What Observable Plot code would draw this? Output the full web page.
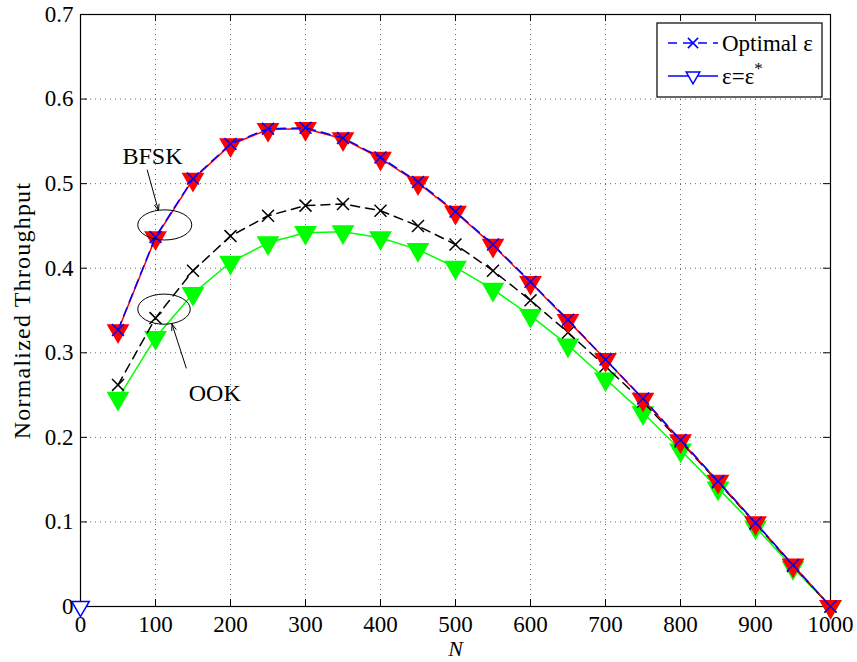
<!DOCTYPE html>
<html><head><meta charset="utf-8">
<script src="https://cdn.jsdelivr.net/npm/d3@7"></script>
<script src="https://cdn.jsdelivr.net/npm/@observablehq/plot@0.6"></script>
<style>
body{margin:0;background:#fff;}
#chart{position:relative;width:857px;height:662px;}
</style>
</head><body><div id="chart"></div>
<script>
// ---- data ----
const N = [50,100,150,200,250,300,350,400,450,500,550,600,650,700,750,800,850,900,950,1000];
const bfskOptimal = [0.327,0.437,0.506,0.547,0.565,0.566,0.554,0.531,0.502,0.467,0.428,0.384,0.339,0.292,0.246,0.197,0.148,0.099,0.049,0];
const bfskStar    = [0.326,0.436,0.505,0.546,0.564,0.565,0.553,0.530,0.501,0.466,0.427,0.383,0.338,0.292,0.245,0.196,0.148,0.099,0.049,0];
const ookOptimal  = [0.262,0.341,0.397,0.438,0.462,0.474,0.476,0.468,0.450,0.428,0.397,0.362,0.324,0.284,0.242,0.195,0.147,0.098,0.048,0];
const ookStar     = [0.246,0.318,0.370,0.407,0.430,0.442,0.443,0.436,0.422,0.401,0.375,0.344,0.309,0.269,0.229,0.185,0.140,0.094,0.046,0];
const xTicks = [0,100,200,300,400,500,600,700,800,900,1000];
const yTicks = [0,0.1,0.2,0.3,0.4,0.5,0.6,0.7];
const yTickLabels = ["0","0.1","0.2","0.3","0.4","0.5","0.6","0.7"];
const dummyPoint = [{N:0, v:0}];
const legendLabels = ["Optimal ε", "ε=ε"];
const annotText = [{label:"BFSK", x:96, y:0.532},{label:"OOK", x:179, y:0.2515}];
const annotEllipse = [{cx:113, cy:0.4506, rx:36, ry:0.0178},{cx:112, cy:0.351, rx:35, ry:0.0178}];
const annotArrow = [{x1:89, y1:0.516, x2:104, y2:0.468},{x1:141, y1:0.282, x2:122, y2:0.334}];

const rows = (ys) => N.map((n,i)=>({N:n, v:ys[i]}));
const W = 857, H = 662, mL = 80, mR = 27, mT = 14, mB = 56;
const innerW = W - mL - mR, innerH = H - mT - mB;
const font = "'Liberation Serif', 'Times New Roman', serif";

const chart = Plot.plot({
  width: W, height: H,
  marginLeft: mL, marginRight: mR, marginTop: mT, marginBottom: mB,
  style: {fontFamily: font, fontSize: "23px", background: "white", color: "black", overflow: "visible"},
  x: {domain: [0, 1000]},
  y: {domain: [0, 0.7]},
  marks: [
    Plot.gridX(xTicks, {stroke: "black", strokeOpacity: 0.6, strokeDasharray: "1,4"}),
    Plot.gridY(yTicks, {stroke: "black", strokeOpacity: 0.6, strokeDasharray: "1,4"}),
    Plot.tickX(xTicks, {x: d => d, insetTop: innerH - 7, stroke: "black"}),
    Plot.tickX(xTicks, {x: d => d, insetBottom: innerH - 7, stroke: "black"}),
    Plot.tickY(yTicks, {y: d => d, insetRight: innerW - 7, stroke: "black"}),
    Plot.tickY(yTicks, {y: d => d, insetLeft: innerW - 7, stroke: "black"}),
    Plot.axisX(xTicks, {tickSize: 0, tickPadding: 9, tickFormat: d => String(d), label: null, fontSize: 23}),
    Plot.axisY(yTicks, {tickSize: 0, tickPadding: 7, tickFormat: (d,i) => yTickLabels[i], label: null, fontSize: 23}),
    Plot.frame({stroke: "black", strokeWidth: 1.2}),
    // OOK, eps = eps*
    Plot.line(rows(ookStar), {x: "N", y: "v", stroke: "#00ff00", strokeWidth: 1.5}),
    Plot.dot(rows(ookStar), {x: "N", y: "v", symbol: "triangle", r: 7.5, fill: "#00ff00", stroke: "#00ff00", rotate: 180}),
    // OOK optimal
    Plot.line(rows(ookOptimal), {x: "N", y: "v", stroke: "black", strokeWidth: 1.5, strokeDasharray: "9,6"}),
    Plot.dot(rows(ookOptimal), {x: "N", y: "v", symbol: "times", r: 5.5, stroke: "black", strokeWidth: 1.5}),
    // BFSK eps = eps*
    Plot.line(rows(bfskStar), {x: "N", y: "v", stroke: "red", strokeWidth: 1.5}),
    Plot.dot(rows(bfskStar), {x: "N", y: "v", symbol: "triangle", r: 7.5, fill: "red", stroke: "red", rotate: 180}),
    // BFSK optimal
    Plot.line(rows(bfskOptimal), {x: "N", y: "v", stroke: "blue", strokeWidth: 1.5, strokeDasharray: "9,6"}),
    Plot.dot(rows(bfskOptimal), {x: "N", y: "v", symbol: "times", r: 5.5, stroke: "blue", strokeWidth: 1.5}),
    // dummy legend point at origin
    Plot.dot(dummyPoint, {x: "N", y: "v", symbol: "triangle", r: 6.5, fill: "white", stroke: "blue", strokeWidth: 1.5, rotate: 180}),
    // annotations
    Plot.arrow(annotArrow, {x1: "x1", y1: "y1", x2: "x2", y2: "y2", stroke: "black", strokeWidth: 1, headLength: 10, headAngle: 40}),
    Plot.text(annotText, {x: "x", y: "y", text: "label", fontSize: 24, fill: "black"}),
    // axis titles
    Plot.text(["N"], {frameAnchor: "bottom", textAnchor: "middle", lineAnchor: "middle", dy: 42, text: d => d, fontSize: 22, fontStyle: "italic", fill: "black"}),
    Plot.text(["Normalized Throughput"], {frameAnchor: "left", textAnchor: "middle", dx: -58, rotate: -90, text: d => d, fontSize: 24, fill: "black"})
  ]
});

document.getElementById("chart").appendChild(chart);
const svg = d3.select(chart);
const sx = chart.scale("x"), sy = chart.scale("y");

svg.selectAll("text").filter(function(){ return this.textContent === "Normalized Throughput"; })
  .style("letter-spacing", "1.2px");

// ellipses
svg.append("g").selectAll("ellipse").data(annotEllipse).join("ellipse")
  .attr("cx", d => sx.apply(d.cx))
  .attr("cy", d => sy.apply(d.cy))
  .attr("rx", d => sx.apply(d.cx + d.rx) - sx.apply(d.cx))
  .attr("ry", d => sy.apply(d.cy - d.ry) - sy.apply(d.cy))
  .attr("fill", "none").attr("stroke", "black").attr("stroke-width", 1);

// legend
const lg = svg.append("g").attr("font-family", font).attr("font-size", 23).attr("text-anchor", "start");
lg.append("rect").attr("x", 657).attr("y", 23).attr("width", 165).attr("height", 74)
  .attr("fill", "white").attr("stroke", "black").attr("stroke-width", 1.2);
const rowY = [43, 76];
lg.append("line").attr("x1", 668).attr("x2", 718).attr("y1", rowY[0]).attr("y2", rowY[0])
  .attr("stroke", "blue").attr("stroke-width", 1.5).attr("stroke-dasharray", "9,6");
lg.append("path").attr("d", d3.symbol(d3.symbolTimes, 70)()).attr("transform", `translate(693,${rowY[0]})`)
  .attr("fill", "none").attr("stroke", "blue").attr("stroke-width", 1.5);
lg.append("line").attr("x1", 668).attr("x2", 718).attr("y1", rowY[1]).attr("y2", rowY[1])
  .attr("stroke", "blue").attr("stroke-width", 1.5);
lg.append("path").attr("d", d3.symbol(d3.symbolTriangle, 80)()).attr("transform", `translate(693,${rowY[1]}) rotate(180)`)
  .attr("fill", "white").attr("stroke", "blue").attr("stroke-width", 1.5);
lg.append("text").attr("x", 722).attr("y", rowY[0]).attr("dy", "0.35em").text(legendLabels[0]);
const t2 = lg.append("text").attr("x", 722).attr("y", rowY[1]).attr("dy", "0.35em");
t2.append("tspan").text(legendLabels[1]);
t2.append("tspan").attr("dy", "-0.6em").attr("font-size", 17).text("*");
</script>
</body></html>
